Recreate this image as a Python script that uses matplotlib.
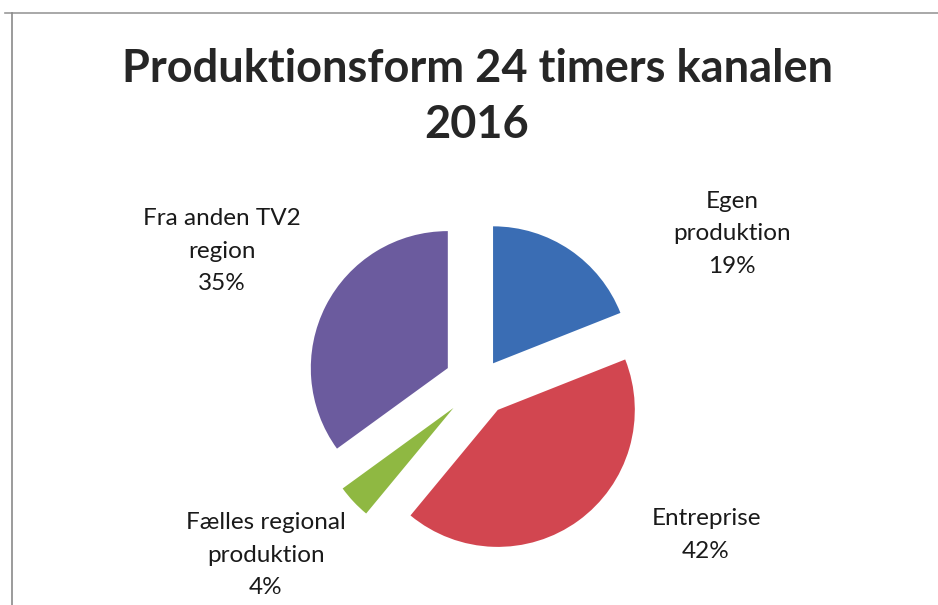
import matplotlib
matplotlib.use("Agg")
from matplotlib import pyplot as plt

W, H = 938, 605

# data
categories = ["Egen\nproduktion", "Entreprise", "Fælles regional\nproduktion", "Fra anden TV2\nregion"]
shares = [19, 42, 4, 35]
title_lines = ["Produktionsform 24 timers kanalen", "2016"]

# style / layout (pixel coords, y from top)
colors = ["#3a6db4", "#d24650", "#8fb842", "#6b5b9e"]
explode = [25, 32, 35, 35]
center = (479, 384)
radius = 137
label_pos = [(732, 234), (706, 535), (266, 555), (222, 251)]

plt.rcParams['font.family'] = ['Lato', 'DejaVu Sans']

fig = plt.figure(figsize=(W/100, H/100), dpi=100)
ax = fig.add_axes([0, 0, 1, 1])

ax.pie(shares, colors=colors, explode=explode, startangle=90, counterclock=False,
       center=(center[0], H-center[1]), radius=radius,
       wedgeprops=dict(linewidth=0))

for lab, v, (x, y) in zip(categories, shares, label_pos):
	ax.text(x, H-y, f"{lab}\n{v}%", ha='center', va='center', fontsize=17.5,
	        color='#1a1a1a', linespacing=1.66)

ax.text(477, H-82, title_lines[0], ha='center', va='baseline', fontsize=32.5,
        fontweight='bold', color='#262626')
ax.text(477, H-138, title_lines[1], ha='center', va='baseline', fontsize=32.5,
        fontweight='bold', color='#262626')

# frame remnants of the scan
ax.plot([5, W], [H-13, H-13], color='#9a9a9a', lw=1.2)
ax.plot([12, 12], [H-13, 0], color='#8a8a8a', lw=1.2)

ax.set_xlim(0, W)
ax.set_ylim(0, H)
ax.set_aspect('auto')
ax.axis('off')

plt.savefig("out.png", dpi=100)
